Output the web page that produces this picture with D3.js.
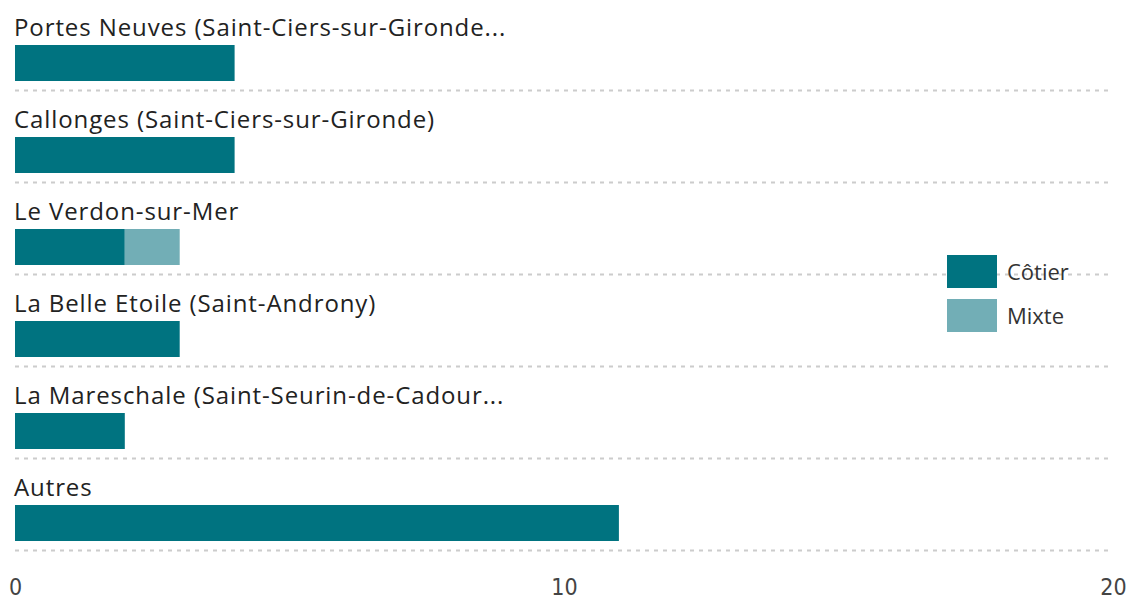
<!DOCTYPE html>
<html lang="fr">
<head>
<meta charset="UTF-8">
<title>Chart</title>
<script src="https://d3js.org/d3.v7.min.js"></script>
<style>
  body { margin: 0; background: #fff; }
  text { font-family: "Open Sans", "Noto Sans", sans-serif; }
</style>
</head>
<body>
<svg></svg>
<script>
const categories = [
  "Portes Neuves (Saint-Ciers-sur-Gironde...",
  "Callonges (Saint-Ciers-sur-Gironde)",
  "Le Verdon-sur-Mer",
  "La Belle Etoile (Saint-Androny)",
  "La Mareschale (Saint-Seurin-de-Cadour...",
  "Autres"
];
const cotier = [4, 4, 2, 3, 2, 11];
const mixte = [0, 0, 1, 0, 0, 0];
const seriesNames = ["Côtier", "Mixte"];
const tickValues = [0, 10, 20];

const width = 1130, height = 602;
const margin = {top: 0, left: 15, right: 17, bottom: 50};
const colors = ["#007380", "#72aeb6"];

const svg = d3.select("svg").attr("width", width).attr("height", height);

const data = categories.map((c, i) => ({cat: c, "Côtier": cotier[i], "Mixte": mixte[i]}));
const stacked = d3.stack().keys(seriesNames)(data);

const x = d3.scaleLinear().domain([0, 20]).range([margin.left, width - margin.right]);
const y = d3.scaleBand().domain(categories).range([0, 552]);

// row separators
svg.append("g").selectAll("line")
  .data(categories)
  .join("line")
  .attr("x1", x(0)).attr("x2", x(20))
  .attr("y1", d => y(d) + y.bandwidth() - 1.5)
  .attr("y2", d => y(d) + y.bandwidth() - 1.5)
  .attr("stroke", "#ccc")
  .attr("stroke-width", 2)
  .attr("stroke-dasharray", "4,5");

// category labels
svg.append("g").selectAll("text")
  .data(categories)
  .join("text")
  .attr("x", 14)
  .attr("y", d => y(d) + 36)
  .attr("font-size", 24)
  .attr("letter-spacing", 0.9)
  .attr("fill", "#222")
  .text(d => d);

// bars
svg.append("g").selectAll("g")
  .data(stacked)
  .join("g")
  .attr("fill", (d, i) => colors[i])
  .selectAll("rect")
  .data(d => d)
  .join("rect")
  .attr("x", d => x(d[0]))
  .attr("y", d => y(d.data.cat) + 45)
  .attr("width", d => x(d[1]) - x(d[0]))
  .attr("height", 36);

// x axis
const xAxis = d3.axisBottom(x).tickValues(tickValues).tickSize(0).tickPadding(0);
const gx = svg.append("g")
  .attr("transform", "translate(0,579)")
  .call(xAxis);
gx.select(".domain").remove();
gx.selectAll("text")
  .attr("font-size", 23)
  .attr("fill", "#444")
  .style("font-family", "'Liberation Sans Narrow', 'DejaVu Sans Condensed', sans-serif");

// legend
const legend = svg.append("g").attr("transform", "translate(947,255)");
seriesNames.forEach((s, i) => {
  legend.append("rect")
    .attr("x", 0).attr("y", i * 44)
    .attr("width", 50).attr("height", 33)
    .attr("fill", colors[i]);
  legend.append("text")
    .attr("x", 60).attr("y", i * 44 + 25)
    .attr("font-size", 22)
    .attr("fill", "#333")
    .text(s);
});
</script>
</body>
</html>
